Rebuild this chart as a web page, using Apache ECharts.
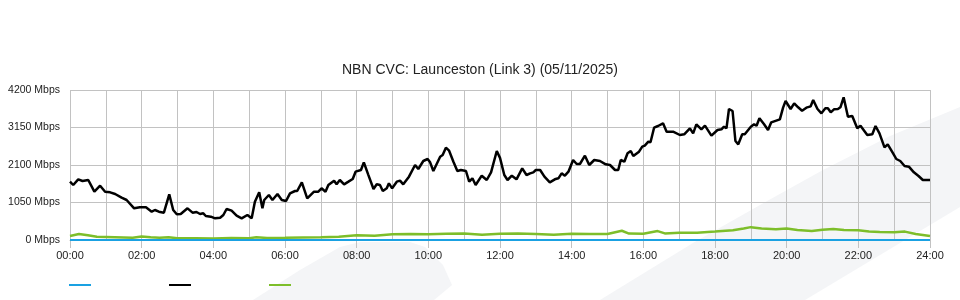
<!DOCTYPE html>
<html>
<head>
<meta charset="utf-8">
<script src="https://cdn.jsdelivr.net/npm/echarts@6/dist/echarts.min.js"></script>
<style>html,body{margin:0;padding:0;background:#fff}#c{width:960px;height:300px}</style>
</head>
<body>
<div id="c"></div>
<script>
var chartTitle = 'NBN CVC: Launceston (Link 3) (05/11/2025)';
var yTicks = [0, 1050, 2100, 3150, 4200];
var xTickLabels = ['00:00','02:00','04:00','06:00','08:00','10:00','12:00','14:00','16:00','18:00','20:00','22:00','24:00'];
var seriesNames = ['Capacity', 'Download', 'Upload'];

// Download (black), time in hours
var downHours = [0,0.09,0.23,0.35,0.51,0.68,0.84,0.98,1.12,1.26,1.44,1.58,1.79,1.95,2.12,2.28,2.37,2.48,2.62,2.77,2.88,2.98,3.09,3.28,3.42,3.53,3.63,3.72,3.79,3.93,4.05,4.19,4.28,4.37,4.51,4.65,4.79,4.95,5.07,5.16,5.28,5.37,5.42,5.55,5.65,5.79,5.91,6.03,6.14,6.28,6.34,6.47,6.62,6.81,6.93,7.02,7.13,7.21,7.37,7.44,7.53,7.65,7.77,7.89,7.97,8.12,8.20,8.32,8.47,8.56,8.65,8.73,8.84,8.90,8.99,9.12,9.21,9.30,9.46,9.63,9.72,9.86,9.98,10.05,10.14,10.33,10.40,10.49,10.58,10.70,10.81,10.91,11.05,11.14,11.23,11.32,11.49,11.63,11.75,11.91,12.0,12.12,12.21,12.33,12.46,12.62,12.74,12.84,12.93,13.0,13.12,13.24,13.39,13.53,13.63,13.72,13.81,13.91,14.04,14.14,14.23,14.37,14.49,14.63,14.79,14.95,15.07,15.21,15.30,15.37,15.47,15.56,15.65,15.72,15.88,15.97,16.04,16.14,16.20,16.30,16.41,16.55,16.65,16.83,17.02,17.14,17.30,17.39,17.48,17.62,17.72,17.90,18.07,18.18,18.25,18.32,18.39,18.49,18.57,18.65,18.76,18.83,19.0,19.09,19.16,19.24,19.37,19.48,19.57,19.81,19.90,19.97,20.11,20.21,20.32,20.43,20.55,20.67,20.74,20.86,20.97,21.08,21.15,21.23,21.32,21.43,21.50,21.59,21.71,21.83,21.97,22.06,22.25,22.39,22.48,22.59,22.73,22.82,22.97,23.06,23.17,23.29,23.41,23.55,23.68,23.80,24.0];
var downMbps = [1633,1540,1699,1652,1680,1353,1521,1353,1335,1288,1185,1120,887,915,915,793,840,793,765,1279,840,719,728,887,765,784,728,747,672,653,607,625,700,868,821,681,607,700,607,1073,1335,887,1120,1260,1120,1288,1120,1092,1307,1372,1372,1615,1167,1353,1353,1447,1353,1540,1661,1559,1680,1559,1633,1708,1913,1960,2175,1839,1428,1559,1540,1372,1447,1587,1447,1633,1661,1559,1773,2100,1988,2212,2268,2175,1932,2333,2380,2585,2501,2193,1932,1960,1932,1633,1727,1540,1801,1680,1895,2492,2300,1820,1680,1801,1699,2007,1820,1867,1895,1960,1960,1773,1615,1699,1727,1867,1801,1913,2240,2128,2128,2361,2100,2240,2212,2119,2100,1960,1960,2240,2193,2427,2492,2352,2473,2613,2641,2753,2735,3145,3192,3267,3033,3033,2940,2959,3127,2987,3239,3099,3201,2921,3080,3099,3173,3127,3668,3612,2772,2679,2959,2959,3173,3239,3201,3407,3239,3080,3295,3379,3705,3892,3668,3827,3715,3621,3705,3743,3920,3668,3547,3687,3687,3575,3659,3668,3715,3995,3453,3472,3127,3201,2940,2959,3192,2987,2595,2679,2427,2268,2212,2072,2053,1895,1792,1680,1680];

// Upload (green)
var upHours = [0,0.25,0.5,0.75,1.0,1.5,1.75,2.0,2.25,2.5,2.75,3.0,3.5,4.0,4.5,5.0,5.2,5.5,6.0,6.5,7.0,7.5,8.0,8.5,9.0,9.5,10.0,10.5,11.0,11.5,12.0,12.5,13.0,13.5,14.0,14.5,15.0,15.4,15.6,16.0,16.4,16.6,17.0,17.5,18.0,18.5,18.8,19.0,19.3,19.7,20.0,20.3,20.7,21.0,21.3,21.6,22.0,22.3,22.6,23.0,23.3,23.6,24.0];
var upMbps = [112,168,130,90,84,70,60,100,75,60,75,50,50,40,55,50,75,55,60,70,75,90,130,120,160,170,160,175,185,150,175,180,165,150,175,165,170,260,180,175,250,185,200,205,235,270,320,360,320,300,320,280,250,290,310,280,270,235,225,220,235,170,112];

// Capacity (blue)
var capHours = [0, 24];
var capMbps = [0, 0];

function pairs(xs, ys) { return xs.map(function (x, i) { return [x, ys[i]]; }); }

var chart = echarts.init(document.getElementById('c'), null, {renderer: 'canvas'});
var font = 'Liberation Sans, Arial, sans-serif';
function legendFor(name, left) {
  return {
    data: [name], left: left, top: 284, padding: 0, icon: 'rect',
    itemWidth: 22, itemHeight: 2, selectedMode: false,
    formatter: function () { return ''; },
    textStyle: {fontSize: 1, color: '#fff'}
  };
}
var gridColor = '#c2c2c2';
chart.setOption({
  animation: false,
  backgroundColor: '#fff',
  title: {
    text: chartTitle, left: 'center', top: 63, padding: 0,
    textStyle: {fontFamily: font, fontSize: 14, fontWeight: 'normal', color: '#222'}
  },
  graphic: [
    {type: 'polygon', z: -100, silent: true,
     shape: {points: [[253,300],[300,270],[340,247],[360,242],[410,242],[425,247],[443,265],[452,285],[434,300]]},
     style: {fill: '#f4f5f7'}},
    {type: 'polygon', z: -100, silent: true,
     shape: {points: [[600,300],[693,243],[760,205],[823,170],[890,136],[960,107],[960,207],[860,267],[805,300]]},
     style: {fill: '#f4f5f7'}}
  ],
  legend: [legendFor(seriesNames[0], 69), legendFor(seriesNames[1], 169), legendFor(seriesNames[2], 269)],
  grid: {left: 70, right: 30, top: 90, bottom: 60, containLabel: false},
  xAxis: {
    type: 'value', min: 0, max: 24, interval: 2,
    axisLine: {show: true, lineStyle: {color: gridColor}},
    axisTick: {show: true, length: 8, lineStyle: {color: gridColor}},
    minorTick: {show: false, splitNumber: 2},
    splitLine: {show: true, lineStyle: {color: gridColor, width: 1}},
    minorSplitLine: {show: true, lineStyle: {color: gridColor, width: 1}},
    axisLabel: {
      margin: 10, color: '#222', fontFamily: font, fontSize: 11,
      formatter: function (v) { return xTickLabels[Math.round(v / 2)]; }
    }
  },
  yAxis: {
    type: 'value', min: yTicks[0], max: yTicks[yTicks.length - 1], interval: yTicks[1] - yTicks[0],
    axisLine: {show: false}, axisTick: {show: false},
    splitLine: {show: true, lineStyle: {color: gridColor, width: 1}},
    axisLabel: {
      margin: 10, color: '#222', fontFamily: font, fontSize: 10.5,
      formatter: function (v) { return v + ' Mbps'; }
    }
  },
  series: [
    {name: seriesNames[0], type: 'line', data: pairs(capHours, capMbps), showSymbol: false, z: 5,
     lineStyle: {color: '#1aa1e2', width: 2}, itemStyle: {color: '#1aa1e2'}},
    {name: seriesNames[1], type: 'line', data: pairs(downHours, downMbps), showSymbol: false, z: 4,
     lineStyle: {color: '#000', width: 2.5}, itemStyle: {color: '#000'}},
    {name: seriesNames[2], type: 'line', data: pairs(upHours, upMbps), showSymbol: false, z: 3,
     lineStyle: {color: '#7dbe2a', width: 2.5}, itemStyle: {color: '#7dbe2a'}}
  ]
});
</script>
</body>
</html>
